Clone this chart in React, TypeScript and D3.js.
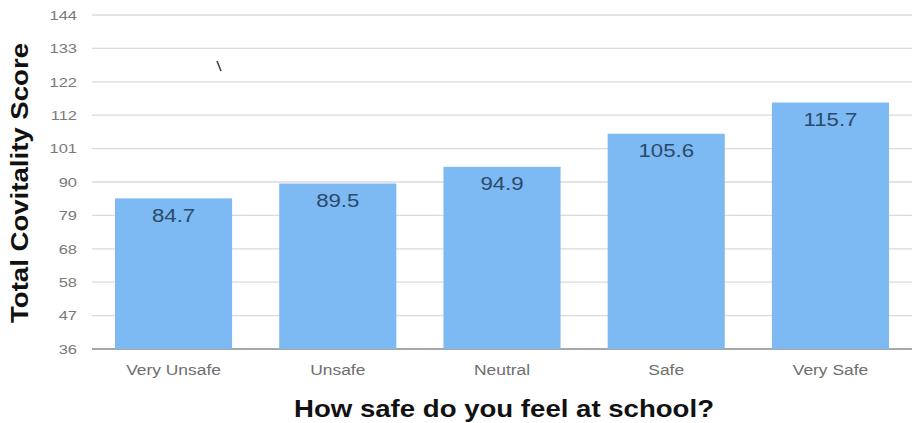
import React from "react";
import * as d3 from "d3";

const categories = ["Very Unsafe", "Unsafe", "Neutral", "Safe", "Very Safe"];
const scores = [84.7, 89.5, 94.9, 105.6, 115.7];
const yTicks = [36, 46.8, 57.6, 68.4, 79.2, 90, 100.8, 111.6, 122.4, 133.2, 144];

const W = 916;
const H = 423;
const left = 92;
const right = 912;
const top = 15;
const bottom = 349;
const font = "'Liberation Sans', Arial, Helvetica, sans-serif";

// Text drawn with a slight horizontal stretch (wide Helvetica look)
function WideText(props: {
  x: number;
  y: number;
  size: number;
  anchor?: "start" | "middle" | "end";
  fill: string;
  bold?: boolean;
  stretch?: number;
  rotate?: number;
  dy?: string;
  children: React.ReactNode;
}) {
  const s = props.stretch ?? 1.18;
  return (
    <text
      transform={`translate(${props.x},${props.y}) rotate(${props.rotate ?? 0}) scale(${s},1)`}
      textAnchor={props.anchor ?? "middle"}
      dy={props.dy}
      fontFamily={font}
      fontSize={props.size}
      fontWeight={props.bold ? "bold" : "normal"}
      fill={props.fill}
    >
      {props.children}
    </text>
  );
}

export default function App() {
  const x = d3.scaleBand<string>().domain(categories).range([left, right]).paddingInner(0.287).paddingOuter(0.14);
  const y = d3.scaleLinear().domain([36, 144]).range([bottom, top]);

  return (
    <svg width={W} height={H} style={{ position: "absolute", left: 0, top: 0, background: "#fff" }}>
      {yTicks.map((t, i) => (
        <g key={i}>
          <line x1={left} x2={right} y1={y(t)} y2={y(t)} stroke={i === 0 ? "#8a8a8a" : "#dadada"} strokeWidth={i === 0 ? 1.6 : 1.3} />
          <WideText x={77} y={y(t)} dy="0.35em" anchor="end" size={13.5} fill="#7a7a7a" stretch={1.22}>
            {Math.round(t)}
          </WideText>
        </g>
      ))}
      {categories.map((c, i) => (
        <g key={c}>
          <rect x={x(c)} y={y(scores[i])} width={x.bandwidth()} height={bottom - y(scores[i])} fill="#7db9f3" />
          <WideText x={(x(c) ?? 0) + x.bandwidth() / 2} y={y(scores[i]) + 23.5} size={19} fill="#2b4a6a" stretch={1.17}>
            {scores[i].toFixed(1)}
          </WideText>
          <WideText x={(x(c) ?? 0) + x.bandwidth() / 2} y={375} size={14.5} fill="#6e6e6e" stretch={1.2}>
            {c}
          </WideText>
        </g>
      ))}
      <line x1={217} y1={61} x2={221} y2={71} stroke="#444" strokeWidth={1.6} />
      <WideText x={28} y={183} rotate={-90} size={23} bold fill="#111" stretch={1.2}>
        Total Covitality Score
      </WideText>
      <WideText x={504} y={417} size={23} bold fill="#111" stretch={1.2}>
        How safe do you feel at school?
      </WideText>
    </svg>
  );
}
